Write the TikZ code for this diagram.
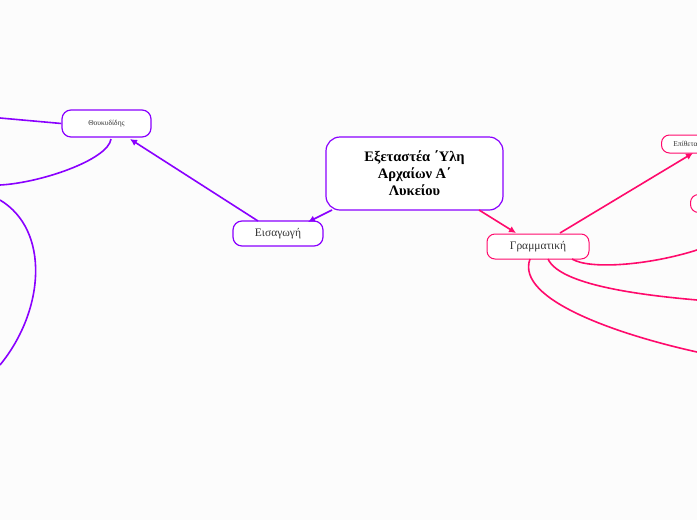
\documentclass[tikz,border=0pt]{standalone}
\usepackage{fontspec}
\setmainfont{Liberation Serif}
\usetikzlibrary{arrows.meta}
\begin{document}
\begin{tikzpicture}[x=1pt,y=-1pt,
  pu/.style={draw=purp,line width=1.2pt,rounded corners=9pt,fill=white,text=black!80},
  pk/.style={draw=pink1,line width=1pt,rounded corners=8pt,fill=white,text=black!80},
  pe/.style={draw=purp,line width=1.6pt,-{Latex[length=7pt,width=7pt]}},
  ke/.style={draw=pink1,line width=1.6pt,-{Latex[length=7pt,width=7pt]}},
  pl/.style={draw=purp,line width=1.6pt},
  kl/.style={draw=pink1,line width=1.6pt}]
\definecolor{purp}{HTML}{8A00FF}
\definecolor{pink1}{HTML}{FF0A6C}
\useasboundingbox (0,0) rectangle (697,520);
\clip (0,0) rectangle (697,520);
\fill[white!98!gray] (0,0) rectangle (697,520);
\node[pu,rounded corners=14pt,minimum width=177pt,minimum height=73pt,align=center,text=black,font=\bfseries\fontsize{14.5}{17}\selectfont] (c) at (414.5,173.5) {Εξεταστέα ΄Υλη\\Αρχαίων Α΄\\Λυκείου};
\node[pu,minimum width=90pt,minimum height=25pt,font=\fontsize{11.5}{13}\selectfont] (e) at (278,233.5) {Εισαγωγή};
\node[pu,minimum width=89pt,minimum height=27pt,font=\fontsize{7.5}{8}\selectfont] (t) at (106.5,123.5) {Θουκυδίδης};
\node[pk,minimum width=102pt,minimum height=25pt,font=\fontsize{11.5}{13}\selectfont] (g) at (538,246.5) {Γραμματική};
\node[pk,minimum width=60pt,minimum height=18pt,font=\fontsize{7.5}{8}\selectfont,anchor=west] (ep) at (661,144) {\hspace*{-12pt}Επίθετα};
\node[pk,minimum width=40pt,minimum height=18pt,anchor=west] (o) at (690,203.5) {};
\draw[pe] (332,210) -- (308,222);
\draw[pe] (258,221) -- (130,139);
\draw[pl] (t.west) -- (0,118);
\draw[pl] (111,139) .. controls (108,160) and (40,183) .. (0,185);
\draw[pl] (0,200) .. controls (50,230) and (45,310) .. (0,365);
\draw[ke] (479,210) -- (516,233);
\draw[ke] (560,233) -- (693,153);
\draw[kl] (572,259) .. controls (590,270) and (650,265) .. (697,250);
\draw[kl] (548,259) .. controls (560,285) and (640,295) .. (697,300);
\draw[kl] (530,259) .. controls (515,300) and (620,335) .. (697,352);
\end{tikzpicture}
\end{document}
